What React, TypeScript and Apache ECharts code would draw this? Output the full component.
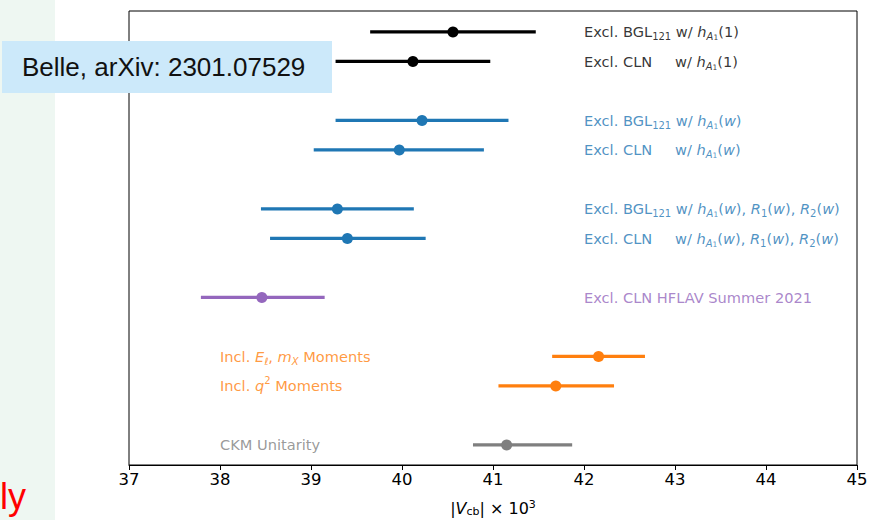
import React, { useEffect, useRef } from 'react';
import * as echarts from 'echarts';

// y positions of the rows (top to bottom)
const rowPositions = [0, 1, 3, 4, 6, 7, 9, 11, 12, 14];
const centralValues = [40.56, 40.12, 40.22, 39.97, 39.29, 39.4, 38.46, 42.16, 41.69, 41.15];
const lowerBounds = [39.65, 39.27, 39.27, 39.03, 38.45, 38.55, 37.79, 41.65, 41.06, 40.78];
const upperBounds = [41.47, 40.97, 41.17, 40.9, 40.13, 40.26, 39.15, 42.67, 42.33, 41.87];
const rowColors = ['#000000', '#000000', '#1f77b4', '#1f77b4', '#1f77b4', '#1f77b4', '#9467bd', '#ff7f0e', '#ff7f0e', '#7f7f7f'];
const labelAnchors = [42, 42, 42, 42, 42, 42, 42, 38, 38, 38];
const rowLabels = [
  '{t|Excl. BGL}{s|121}{t| w/ }{i|h}{si|A}{ss|1}{t|(1)}',
  '{pc|Excl. CLN}{t|w/ }{i|h}{si|A}{ss|1}{t|(1)}',
  '{t|Excl. BGL}{s|121}{t| w/ }{i|h}{si|A}{ss|1}{t|(}{i|w}{t|)}',
  '{pc|Excl. CLN}{t|w/ }{i|h}{si|A}{ss|1}{t|(}{i|w}{t|)}',
  '{t|Excl. BGL}{s|121}{t| w/ }{i|h}{si|A}{ss|1}{t|(}{i|w}{t|), }{i|R}{s|1}{t|(}{i|w}{t|), }{i|R}{s|2}{t|(}{i|w}{t|)}',
  '{pc|Excl. CLN}{t|w/ }{i|h}{si|A}{ss|1}{t|(}{i|w}{t|), }{i|R}{s|1}{t|(}{i|w}{t|), }{i|R}{s|2}{t|(}{i|w}{t|)}',
  '{t|Excl. CLN HFLAV Summer 2021}',
  '{t|Incl. }{i|E}{si|ℓ}{t|, }{i|m}{si|X}{t| Moments}',
  '{t|Incl. }{i|q}{sup|2}{t| Moments}',
  '{t|CKM Unitarity}',
];
const xTicksMin = 37;
const xTicksMax = 45;
const axisTitle = '{t||}{i|V}{s|cb}{t|| × 10}{sup|3}';
const noteText = 'Belle, arXiv: 2301.07529';
const cornerText = 'ly';

const FONT = 'DejaVu Sans';
const FS = 14.6;
const rich = {
  t: { fontFamily: FONT, fontSize: FS, lineHeight: 20 },
  pc: { fontFamily: FONT, fontSize: FS, lineHeight: 20, width: 91 },
  i: { fontFamily: FONT, fontSize: FS, lineHeight: 20, fontStyle: 'italic' },
  s: { fontFamily: FONT, fontSize: 10, lineHeight: 11, verticalAlign: 'bottom' },
  si: { fontFamily: FONT, fontSize: 10, lineHeight: 11, verticalAlign: 'bottom', fontStyle: 'italic' },
  ss: { fontFamily: FONT, fontSize: 7.5, lineHeight: 5, verticalAlign: 'bottom' },
  sup: { fontFamily: FONT, fontSize: 10, lineHeight: 13, verticalAlign: 'top' },
};
const nameRich = {
  t: { fontFamily: FONT, fontSize: 16, lineHeight: 18 },
  i: { fontFamily: FONT, fontSize: 16, lineHeight: 18, fontStyle: 'italic' },
  s: { fontFamily: FONT, fontSize: 11, lineHeight: 8, verticalAlign: 'bottom' },
  sup: { fontFamily: FONT, fontSize: 11, lineHeight: 10, verticalAlign: 'top' },
};

export default function App() {
  const ref = useRef<HTMLDivElement>(null);
  useEffect(() => {
    const chart = echarts.init(ref.current!, null, { renderer: 'svg' });
    const errData = rowPositions.map((y, i) => [lowerBounds[i], centralValues[i], upperBounds[i], y]);
    const labelData = rowPositions.map((y, i) => ({
      value: [labelAnchors[i], y],
      label: { color: rowColors[i] },
    }));
    chart.setOption({
      animation: false,
      backgroundColor: '#ffffff',
      grid: {
        left: 129, right: 13, top: 11, bottom: 55,
        containLabel: false, outerBoundsMode: 'none',
        show: true, borderColor: '#000', borderWidth: 1,
      },
      xAxis: {
        type: 'value',
        min: xTicksMin,
        max: xTicksMax,
        interval: 1,
        axisLine: { onZero: false, lineStyle: { color: '#000', width: 1 } },
        axisTick: { show: true, inside: false, length: 5, lineStyle: { color: '#000' } },
        axisLabel: { fontFamily: FONT, fontSize: 16.5, color: '#000', margin: 6 },
        splitLine: { show: false },
        name: axisTitle,
        nameLocation: 'middle',
        nameGap: 34,
        nameTextStyle: { color: '#000', fontFamily: FONT, fontSize: 16, lineHeight: 18, rich: nameRich },
      },
      yAxis: { type: 'value', min: -0.71, max: 14.68, inverse: true, show: false },
      series: [
        {
          type: 'custom',
          data: errData,
          z: 3,
          renderItem: (params: any, api: any) => {
            const y = api.value(3);
            const lo = api.coord([api.value(0), y]);
            const c = api.coord([api.value(1), y]);
            const hi = api.coord([api.value(2), y]);
            const color = rowColors[params.dataIndex];
            return {
              type: 'group',
              children: [
                { type: 'line', shape: { x1: lo[0], y1: lo[1], x2: hi[0], y2: hi[1] }, style: { stroke: color, lineWidth: 3.3 } },
                { type: 'circle', shape: { cx: c[0], cy: c[1], r: 5.5 }, style: { fill: color } },
              ],
            };
          },
        },
        {
          type: 'scatter',
          data: labelData,
          symbolSize: 0,
          z: 4,
          label: {
            show: true,
            position: 'right',
            distance: 0,
            fontFamily: FONT,
            fontSize: FS,
            formatter: (p: any) => rowLabels[p.dataIndex],
            rich,
          },
        },
      ],
      graphic: [
        { type: 'rect', z: 0, shape: { x: 0, y: 0, width: 55, height: 520 }, style: { fill: '#eef7f2' } },
        {
          type: 'text', z: 1, x: 0, y: 496,
          style: { text: cornerText, fill: '#ff0000', font: '36px "Liberation Sans", Arial, sans-serif', textVerticalAlign: 'middle' },
        },
        { type: 'rect', z: 100, shape: { x: 2, y: 41, width: 330, height: 52 }, style: { fill: '#cce9fa' } },
        {
          type: 'text', z: 101, x: 22, y: 67,
          style: { text: noteText, fill: '#111', font: '26px "Liberation Sans", Arial, sans-serif', textVerticalAlign: 'middle' },
        },
      ],
    });
    return () => chart.dispose();
  }, []);
  return <div ref={ref} style={{ position: 'fixed', left: 0, top: 0, width: 870, height: 520 }} />;
}
